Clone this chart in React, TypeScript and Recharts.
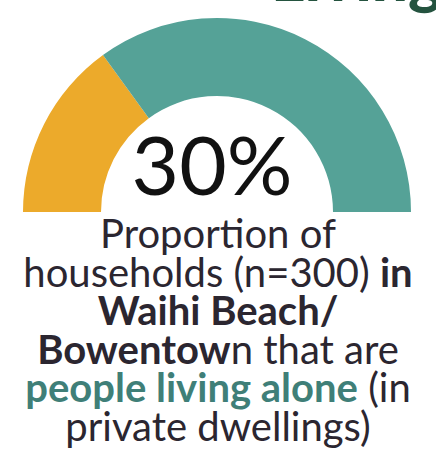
import { PieChart, Pie, Cell } from "recharts";

const segments = ["Living alone", "Other households"];
const shares = [30, 70];
const COLORS = ["#ECAA2B", "#55A297"];

const data = segments.map((name, i) => ({ name, value: shares[i] }));

const INK = "#2B2630";
const TEAL_TEXT = "#3F7F78";
const FONT = "Lato, 'Open Sans', sans-serif";

export default function App() {
  return (
    <div
      style={{
        position: "absolute",
        left: 0,
        top: 0,
        width: 436,
        height: 463,
        background: "#fff",
        overflow: "hidden",
        fontFamily: FONT,
      }}
    >
      {/* heading above, mostly cropped out */}
      <div
        style={{
          position: "absolute",
          left: 271,
          top: -55,
          fontSize: 64,
          fontWeight: 900,
          color: "#24533F",
          lineHeight: "64px",
          whiteSpace: "nowrap",
        }}
      >
        Living
      </div>
      <PieChart width={436} height={463}>
        <Pie
          data={data}
          dataKey="value"
          nameKey="name"
          cx={212}
          cy={207}
          startAngle={180}
          endAngle={0}
          innerRadius={116}
          outerRadius={194}
          stroke="none"
          isAnimationActive={false}
        >
          {data.map((_, i) => (
            <Cell key={i} fill={COLORS[i]} />
          ))}
        </Pie>
      </PieChart>
      <div
        style={{
          position: "absolute",
          left: 112,
          width: 200,
          top: 122,
          textAlign: "center",
          fontSize: 82,
          lineHeight: "82px",
          color: "#111",
        }}
      >
        30%
      </div>
      <div
        style={{
          position: "absolute",
          left: 0,
          width: 436,
          top: 214,
          textAlign: "center",
          fontSize: 40,
          lineHeight: "38.5px",
          color: INK,
          whiteSpace: "nowrap",
        }}
      >
        Proportion of
        <br />
        households (n=300) <b>in</b>
        <br />
        <b>Waihi Beach/</b>
        <br />
        <b>Bowentow</b>n that are
        <br />
        <b style={{ color: TEAL_TEXT }}>people living alone</b> (in
        <br />
        private dwellings)
      </div>
    </div>
  );
}
